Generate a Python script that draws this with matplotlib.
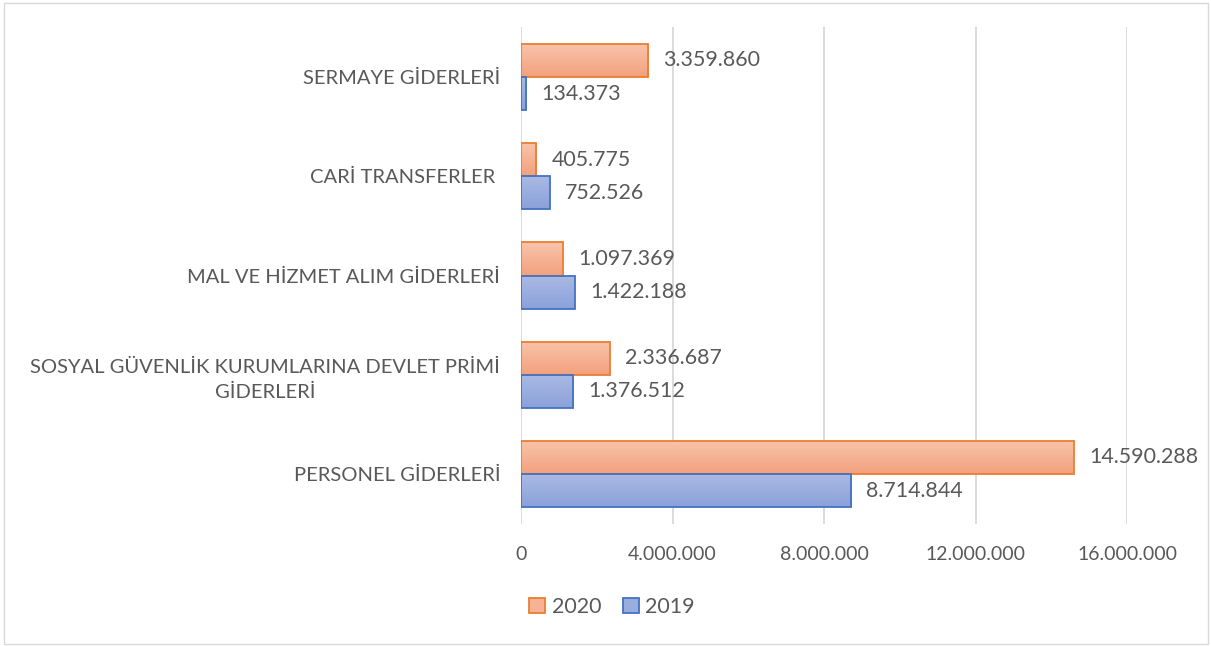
import matplotlib
matplotlib.use("Agg")
import matplotlib.pyplot as plt
import numpy as np
from matplotlib.patches import Patch, Rectangle
from matplotlib.colors import LinearSegmentedColormap
from matplotlib.ticker import FuncFormatter, MultipleLocator

categories = ["PERSONEL GİDERLERİ",
              "SOSYAL GÜVENLİK KURUMLARINA DEVLET PRİMİ\nGİDERLERİ",
              "MAL VE HİZMET ALIM GİDERLERİ",
              "CARİ TRANSFERLER ",
              "SERMAYE GİDERLERİ"]
values_2020 = [14590288, 2336687, 1097369, 405775, 3359860]
values_2019 = [8714844, 1376512, 1422188, 752526, 134373]
series_names = ["2020", "2019"]

plt.rcParams['font.family'] = ['Lato', 'DejaVu Sans']
TXT = "#595959"
FS_TICK = 14
FS_CAT = 14.5
FS_VAL = 15.4

def fmt(v):
    return f"{int(v):,}".replace(",", ".")

fig = plt.figure(figsize=(12.11, 6.46), dpi=100)
fig.patches.append(Rectangle((4/1211, 2/646), 1204/1211, 641/646, transform=fig.transFigure,
                             fill=False, edgecolor="#D9D9D9", linewidth=1.0, zorder=0))
ax = fig.add_axes([521/1211, 1 - 523.6/646, 606/1211, (523.6 - 27.4)/646])

y = np.arange(len(categories))
h = 1/3
specs = [
    (values_2020, y + h/2, "#F9C4AB", "#F3A17D", "#ED7D31"),
    (values_2019, y - h/2, "#ABBAE4", "#8AA1D9", "#4472C4"),
]
for vals, pos, ctop, cbot, edge in specs:
    cmap = LinearSegmentedColormap.from_list("g", [cbot, ctop])
    bars = ax.barh(pos, vals, height=h, color="none", edgecolor=edge, linewidth=1.3, zorder=3)
    for b, v in zip(bars, vals):
        x0, y0 = b.get_x(), b.get_y()
        w, hh = b.get_width(), b.get_height()
        grad = np.linspace(0, 1, 64).reshape(-1, 1)
        im = ax.imshow(grad, cmap=cmap, origin="lower", aspect="auto",
                       extent=[x0, x0 + w, y0, y0 + hh], zorder=2)
        im.set_clip_path(Rectangle((x0, y0), w, hh, transform=ax.transData))
        ax.annotate(fmt(v), (x0 + w, y0 + hh/2), xytext=(11, 0), textcoords="offset points",
                    ha="left", va="center", fontsize=FS_VAL, color=TXT)

ax.set_xlim(0, 16000000)
ax.set_ylim(-0.5, len(categories) - 0.5)
ax.xaxis.set_major_locator(MultipleLocator(4000000))
ax.xaxis.set_major_formatter(FuncFormatter(lambda v, p: fmt(v)))
ax.set_yticks(y)
ax.set_yticklabels(categories)
for t in ax.get_yticklabels():
    t.set_multialignment("center")
    t.set_linespacing(1.55)
    t.set_fontsize(FS_CAT)
ax.tick_params(axis="both", length=0, labelcolor=TXT)
ax.tick_params(axis="x", labelsize=FS_TICK, pad=16)
ax.tick_params(axis="y", pad=15)
ax.grid(axis="x", color="#D9D9D9", linewidth=1.3, zorder=0)
ax.set_axisbelow(True)
for s in ax.spines.values():
    s.set_visible(False)

handles = [Patch(facecolor="#F6B294", edgecolor="#ED7D31", linewidth=1.3),
           Patch(facecolor="#9AAEDE", edgecolor="#4472C4", linewidth=1.3)]
fig.legend(handles, series_names, loc="center", bbox_to_anchor=(612/1211, 1 - 607/646),
           ncol=2, frameon=False, fontsize=FS_VAL, labelcolor=TXT, handlelength=0.75,
           handleheight=0.75, handletextpad=0.3, columnspacing=1.0)

fig.savefig("out.png", dpi=100)
